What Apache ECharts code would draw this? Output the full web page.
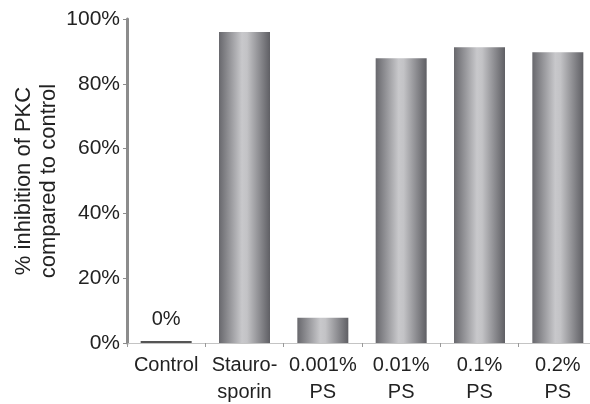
<!DOCTYPE html>
<html>
<head>
<meta charset="utf-8">
<script src="https://cdn.jsdelivr.net/npm/echarts@6/dist/echarts.min.js"></script>
<style>html,body{margin:0;padding:0;background:#fff}#c{width:590px;height:404px}</style>
</head>
<body>
<div id="c"></div>
<script>
var categories = ['Control', 'Stauro-\nsporin', '0.001%\nPS', '0.01%\nPS', '0.1%\nPS', '0.2%\nPS'];
var values = [0, 96, 7.8, 87.9, 91.3, 89.7];
var barLabels = ['0%', '', '', '', '', ''];
var yTicks = [0, 20, 40, 60, 80, 100];

var grad = new echarts.graphic.LinearGradient(0, 0, 1, 0, [
  {offset: 0, color: '#68686d'},
  {offset: 0.45, color: '#c8c8cb'},
  {offset: 0.55, color: '#c3c3c6'},
  {offset: 1, color: '#5f5f64'}
]);

var data = values.map(function (v, i) {
  var d = {value: v, itemStyle: {color: grad}};
  if (v === 0) d.itemStyle = {color: '#555'};
  if (barLabels[i]) {
    d.label = {show: true, position: 'top', distance: 12, formatter: barLabels[i],
      fontSize: 20, color: '#222', fontFamily: 'Liberation Sans, Arial, sans-serif'};
  }
  return d;
});

var chart = echarts.init(document.getElementById('c'), null, {renderer: 'canvas'});
chart.setOption({
  animation: false,
  grid: {left: 127, right: -7, top: 19, bottom: 61, containLabel: false, outerBoundsMode: 'none'},
  xAxis: {
    type: 'category',
    data: categories,
    axisLine: {lineStyle: {color: '#c4c4c4', width: 1}},
    axisTick: {show: true, length: 4, lineStyle: {color: '#999'}},
    axisLabel: {fontSize: 20, color: '#222', lineHeight: 27, margin: 9,
      fontFamily: 'Liberation Sans, Arial, sans-serif', interval: 0}
  },
  yAxis: {
    type: 'value',
    min: yTicks[0], max: yTicks[yTicks.length - 1], interval: 20,
    name: '% inhibition of PKC\ncompared to control',
    nameLocation: 'middle',
    nameGap: 66,
    nameMoveOverlap: false,
    nameRotate: 90,
    nameTextStyle: {fontSize: 22, color: '#222', lineHeight: 25,
      fontFamily: 'Liberation Sans, Arial, sans-serif'},
    splitLine: {show: false},
    axisLine: {show: true, lineStyle: {color: '#8c8c8c', width: 3}},
    axisTick: {show: true, length: 4, lineStyle: {color: '#8c8c8c', width: 1}},
    axisLabel: {fontSize: 21, color: '#222', margin: 7,
      fontFamily: 'Liberation Sans, Arial, sans-serif',
      formatter: function (v) { return v + '%'; }}
  },
  series: [{
    type: 'bar',
    data: data,
    barWidth: 51,
    barMinHeight: 2
  }]
});
</script>
</body>
</html>
